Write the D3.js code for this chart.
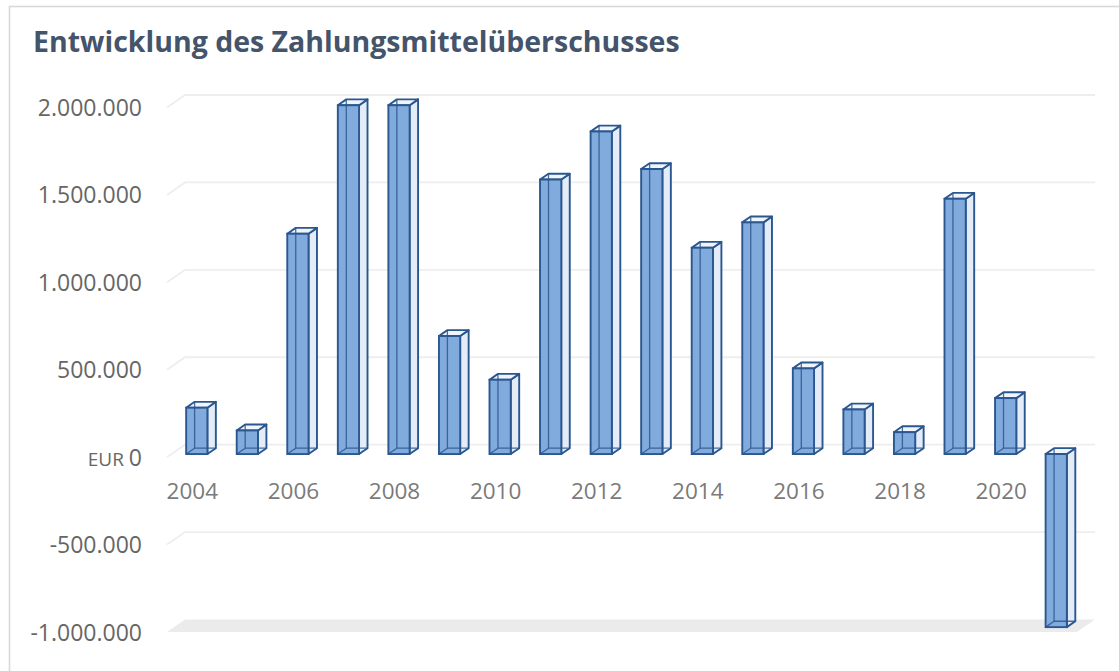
<!DOCTYPE html>
<html>
<head>
<meta charset="UTF-8">
<title>Zahlungsmittelüberschuss</title>
<script src="https://cdn.jsdelivr.net/npm/d3@7"></script>
<style>
  body { margin: 0; background: #fff; }
  text { font-family: "Open Sans", sans-serif; }
</style>
</head>
<body>
<svg id="chart" width="1119" height="671"></svg>
<script>
// data
var years = [2004, 2005, 2006, 2007, 2008, 2009, 2010, 2011, 2012,
             2013, 2014, 2015, 2016, 2017, 2018, 2019, 2020, 2021];
var values = [265000, 135000, 1260000, 1995000, 1995000, 675000, 425000, 1570000, 1845000,
              1630000, 1180000, 1325000, 490000, 255000, 125000, 1460000, 320000, -990000];
var yTicks = [-1000000, -500000, 0, 500000, 1000000, 1500000, 2000000];
var xTickYears = [2004, 2006, 2008, 2010, 2012, 2014, 2016, 2018, 2020];
var title = "Entwicklung des Zahlungsmittelüberschusses";

var svg = d3.select("#chart");

var de = d3.formatLocale({decimal: ",", thousands: ".", grouping: [3], currency: ["", " €"], minus: "-"});
var fmt = de.format(",");

// 3d projection: depth vector of the walls
var depth = [18, -12.5];

var x = d3.scaleBand().domain(years).range([167, 1077]);
var y = d3.scaleLinear().domain([-1000000, 2000000]).range([632, 107.5]);

function off(t) { return [depth[0] * t, depth[1] * t]; }

// frame
svg.append("rect")
    .attr("x", 9.5).attr("y", 6.5)
    .attr("width", 1130).attr("height", 700)
    .attr("fill", "none")
    .attr("stroke", "#d9d9d9")
    .attr("stroke-width", 1.6);

svg.append("text")
    .attr("x", 33).attr("y", 52)
    .attr("fill", "#44546a")
    .attr("font-size", 28.5)
    .attr("font-weight", 700)
    .text(title);

// floor at the bottom of the axis
var x0 = x.range()[0], x1 = x.range()[1];
var yb = y(-1000000);
svg.append("path")
    .attr("d", "M" + x0 + "," + yb + "L" + x1 + "," + yb +
        "L" + (x1 + depth[0]) + "," + (yb + depth[1]) +
        "L" + (x0 + depth[0]) + "," + (yb + depth[1]) + "Z")
    .attr("fill", "#ebebeb");

// gridlines: side wall diagonal + back wall line
var grid = svg.append("g");
yTicks.filter(function (v) { return v > -1000000; }).forEach(function (v) {
    var yy = y(v);
    grid.append("path")
        .attr("d", "M" + x0 + "," + yy + "L" + (x0 + depth[0]) + "," + (yy + depth[1]) +
            "L" + (x1 + depth[0]) + "," + (yy + depth[1]))
        .attr("fill", "none")
        .attr("stroke", "#eeeeee")
        .attr("stroke-width", 1.8);
});

// y axis
var yAxis = svg.append("g")
    .attr("transform", "translate(142,0)")
    .call(d3.axisLeft(y).tickValues(yTicks).tickSize(0).tickPadding(0).tickFormat(fmt));
yAxis.select(".domain").remove();
yAxis.selectAll("text")
    .attr("font-family", "Open Sans, sans-serif")
    .attr("font-size", 23)
    .attr("fill", "#666666")
    .attr("dy", "0.35em")
    .each(function (d) {
        if (d === 0) {
            var t = d3.select(this).text("");
            t.append("tspan").attr("font-size", 19).text("EUR ");
            t.append("tspan").text("0");
        }
    });

// x axis on the front plane
var xAxis = svg.append("g")
    .attr("transform", "translate(0,481)")
    .call(d3.axisBottom(x).tickValues(xTickYears).tickSize(0).tickPadding(0));
xAxis.select(".domain").remove();
xAxis.selectAll("text")
    .attr("font-family", "Open Sans, sans-serif")
    .attr("font-size", 22.5)
    .attr("fill", "#7a7a7a")
    .attr("dy", "0.78em");

// 3d columns
var tFront = 0.25, tBack = 0.72;
var bw = x.bandwidth() * 0.42;
var fo = off(tFront), bo = off(tBack - tFront);
var stroke = "#2b5790";

var bars = svg.append("g").selectAll("g")
    .data(years.map(function (yr, i) { return {year: yr, value: values[i]}; }))
    .join("g")
    .attr("transform", function (d) { return "translate(" + fo[0] + "," + fo[1] + ")"; });

bars.each(function (d) {
    var g = d3.select(this);
    var l = x(d.year) + x.bandwidth() / 2 - bw / 2, r = l + bw;
    var top = Math.min(y(d.value), y(0)), bot = Math.max(y(d.value), y(0));
    var dx = bo[0], dy = bo[1];
    function P(pts) { return "M" + pts.map(function (p) { return p.join(","); }).join("L") + "Z"; }
    // side face
    g.append("path")
        .attr("d", P([[r, top], [r + dx, top + dy], [r + dx, bot + dy], [r, bot]]))
        .attr("fill", "#e3ecf7").attr("stroke", stroke).attr("stroke-width", 1.9)
        .attr("stroke-linejoin", "round");
    // top face
    g.append("path")
        .attr("d", P([[l, top], [l + dx, top + dy], [r + dx, top + dy], [r, top]]))
        .attr("fill", "#f0f5fc").attr("stroke", stroke).attr("stroke-width", 1.9)
        .attr("stroke-linejoin", "round");
    // front face
    g.append("rect")
        .attr("x", l).attr("y", top)
        .attr("width", bw).attr("height", bot - top)
        .attr("fill", "#80abdc").attr("stroke", stroke).attr("stroke-width", 1.9);
    // hidden edges seen through the front
    g.append("path")
        .attr("d", "M" + (l + dx) + "," + (top + dy) + "L" + (l + dx) + "," + (bot + dy) +
            "L" + (r + dx) + "," + (bot + dy))
        .attr("fill", "none").attr("stroke", stroke).attr("stroke-width", 1.3)
        .attr("stroke-opacity", 0.85);
    g.append("path")
        .attr("d", "M" + l + "," + bot + "L" + (l + dx) + "," + (bot + dy))
        .attr("fill", "none").attr("stroke", stroke).attr("stroke-width", 1.3)
        .attr("stroke-opacity", 0.85);
});
</script>
</body>
</html>
